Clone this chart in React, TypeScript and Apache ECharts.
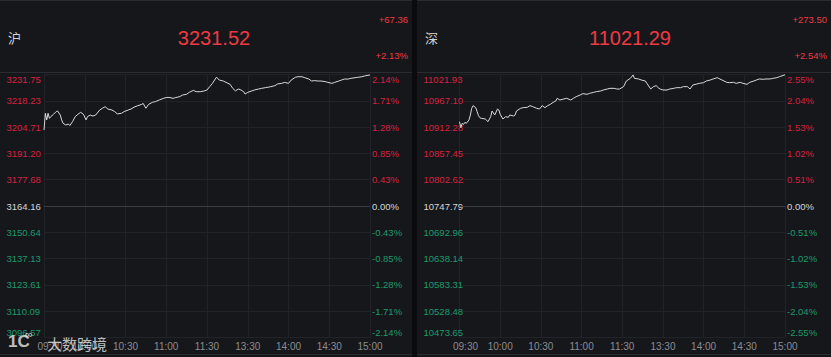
import React, { useEffect, useRef } from "react";
import * as echarts from "echarts";

// ---- data ----
const timeLabels = ["09:30", "10:00", "10:30", "11:00", "11:30", "13:30", "14:00", "14:30", "15:00"];

const shName = "沪";
const shPreClose = 3164.16;
const shAxisTop = 3231.75;
const shLast = "3231.52";
const shChange = "+67.36";
const shChangePct = "+2.13%";
const shPriceTicks = ["3096.57", "3110.09", "3123.61", "3137.13", "3150.64", "3164.16", "3177.68", "3191.20", "3204.71", "3218.23", "3231.75"];
const shPctTicks = ["-2.14%", "-1.71%", "-1.28%", "-0.85%", "-0.43%", "0.00%", "0.43%", "0.85%", "1.28%", "1.71%", "2.14%"];
// [minute index from 09:30, price]
const shSeries: [number, number][] = [
  [0, 3203.2], [1, 3211.8], [2, 3208.4], [3, 3211.8], [4, 3209.2], [5, 3210.1], [7, 3211.3], [9, 3212.7],
  [10, 3213.0], [12, 3210.9], [13, 3208.4], [14, 3206.7], [16, 3205.8], [18, 3206.3], [19, 3205.5],
  [21, 3207.5], [23, 3210.1], [25, 3211.3], [27, 3212.3], [29, 3211.3], [31, 3208.4], [32, 3210.1],
  [34, 3210.9], [36, 3210.4], [38, 3210.9], [41, 3213.5], [43, 3214.4], [45, 3215.2], [47, 3214.0],
  [50, 3213.5], [52, 3212.7], [54, 3211.5], [57, 3211.8], [59, 3212.7], [62, 3213.5], [64, 3214.0],
  [67, 3215.2], [69, 3215.7], [72, 3216.4], [73, 3216.9], [75, 3214.4], [77, 3216.4], [80, 3217.5],
  [82, 3217.8], [85, 3218.7], [88, 3219.5], [90, 3219.9], [92, 3220.0], [95, 3219.5], [97, 3219.9],
  [100, 3220.4], [102, 3221.2], [105, 3221.6], [107, 3222.6], [110, 3223.6], [112, 3222.9], [115, 3222.9],
  [118, 3223.3], [120, 3223.8], [122, 3225.5], [124, 3227.2], [127, 3230.4], [129, 3228.9], [132, 3228.4],
  [134, 3227.7], [137, 3226.7], [139, 3224.6], [141, 3223.3], [143, 3224.3], [145, 3223.8], [147, 3222.9],
  [148, 3221.7], [150, 3222.6], [153, 3223.3], [155, 3223.8], [158, 3224.3], [160, 3224.6], [163, 3225.0],
  [165, 3225.2], [167, 3225.5], [170, 3226.0], [172, 3226.9], [175, 3227.2], [177, 3227.7], [180, 3227.2],
  [182, 3228.9], [185, 3230.3], [187, 3230.6], [190, 3230.6], [192, 3230.1], [195, 3229.4], [197, 3228.4],
  [199, 3228.6], [202, 3228.4], [204, 3228.4], [207, 3228.1], [209, 3227.7], [212, 3227.2], [214, 3227.7],
  [217, 3228.4], [219, 3228.9], [221, 3229.4], [224, 3229.4], [226, 3229.8], [229, 3230.1], [231, 3230.3],
  [234, 3230.6], [236, 3231.0], [240, 3231.52],
];

const szName = "深";
const szPreClose = 10747.79;
const szAxisTop = 11021.93;
const szLast = "11021.29";
const szChange = "+273.50";
const szChangePct = "+2.54%";
const szPriceTicks = ["10473.65", "10528.48", "10583.31", "10638.14", "10692.96", "10747.79", "10802.62", "10857.45", "10912.28", "10967.10", "11021.93"];
const szPctTicks = ["-2.55%", "-2.04%", "-1.53%", "-1.02%", "-0.51%", "0.00%", "0.51%", "1.02%", "1.53%", "2.04%", "2.55%"];
const szSeries: [number, number][] = [
  [0, 10923.6], [1, 10911.1], [2, 10920.1], [3, 10918.0], [4, 10922.2], [5, 10920.1], [7, 10927.1],
  [8, 10937.5], [9, 10951.4], [10, 10957.0], [12, 10952.8], [13, 10944.5], [14, 10936.1], [15, 10931.9],
  [16, 10930.6], [19, 10929.2], [21, 10923.6], [23, 10934.0], [24, 10945.8], [26, 10937.5], [28, 10950.0],
  [29, 10947.9], [30, 10938.9], [32, 10929.2], [34, 10934.0], [36, 10932.6], [37, 10937.5], [40, 10935.4],
  [41, 10937.5], [42, 10945.8], [45, 10951.4], [47, 10952.8], [50, 10953.5], [52, 10957.0], [54, 10954.9],
  [57, 10951.4], [59, 10950.0], [61, 10957.0], [63, 10952.8], [65, 10957.0], [67, 10959.7], [69, 10963.9],
  [71, 10966.7], [72, 10972.3], [74, 10968.8], [77, 10970.9], [79, 10972.3], [82, 10968.8], [84, 10972.3],
  [86, 10975.7], [89, 10979.2], [91, 10982.0], [94, 10980.6], [96, 10982.7], [99, 10984.8], [101, 10986.1],
  [104, 10987.5], [106, 10989.6], [109, 10991.7], [111, 10993.1], [114, 10993.1], [116, 10991.7],
  [118, 10991.7], [121, 10996.6], [123, 11008.4], [126, 11013.9], [128, 11021.0], [129, 11013.9],
  [132, 11012.6], [134, 11010.5], [137, 11008.4], [139, 11000.0], [141, 10991.7], [143, 10996.6],
  [145, 10998.7], [147, 10993.1], [148, 10991.7], [150, 10989.6], [153, 10989.6], [155, 10991.7],
  [158, 10993.1], [160, 10994.5], [163, 10994.5], [165, 10996.6], [168, 10996.6], [170, 10991.7],
  [172, 11000.0], [175, 11002.1], [177, 11003.5], [180, 11004.9], [182, 11008.4], [185, 11010.5],
  [187, 11012.6], [190, 11015.3], [192, 11012.6], [195, 11008.4], [197, 11005.6], [199, 11004.9],
  [202, 11005.6], [204, 11003.5], [207, 11005.6], [209, 11003.5], [212, 11001.4], [214, 11005.6],
  [217, 11008.4], [219, 11010.5], [221, 11012.6], [224, 11011.9], [226, 11012.6], [229, 11012.6],
  [231, 11013.9], [234, 11015.3], [236, 11017.4], [240, 11021.29],
];

// ---- styles ----
const W = 831;
const H = 357;
const BG = "#16171b";
const GAP = "#0b0b0d";
const SEP = "#2b2c31";
const RED = "#d8213f";
const HEAD_RED = "#ee3a44";
const GREEN = "#1e9a6c";
const ZERO = "#d6d6d6";
const GRID = "#222328";
const LINE = "#d9d9d9";
const FONT = "'Liberation Sans', Arial, Helvetica, sans-serif";
const CJK = "'Noto Sans CJK SC', sans-serif";
const YFS = 9.5;

export default function App() {
  const ref = useRef<HTMLDivElement>(null);

  useEffect(() => {
    document.body.style.margin = "0";
    const chart = echarts.init(ref.current!, undefined, { renderer: "svg" });

    const panels = [
      { pre: shPreClose, top: shAxisTop, data: shSeries, priceTicks: shPriceTicks, pctTicks: shPctTicks, left: 44, right: W - 370, x0: 0, x1: 412 },
      { pre: szPreClose, top: szAxisTop, data: szSeries, priceTicks: szPriceTicks, pctTicks: szPctTicks, left: 459.5, right: W - 785, x0: 417, x1: W },
    ];

    const grids: any[] = [];
    const xAxes: any[] = [];
    const yAxes: any[] = [];
    const series: any[] = [];

    panels.forEach((p, k) => {
      const span = +(p.top - p.pre).toFixed(2);
      const step = span / 5;
      const idx = (v: number) => Math.max(0, Math.min(10, Math.round(v / step) + 5));
      grids.push({ left: p.left, right: p.right, top: 74.5, bottom: 19.5, containLabel: false });
      xAxes.push({
        type: "value",
        gridIndex: k,
        min: 0,
        max: 240,
        interval: 30,
        axisLine: { show: false },
        axisTick: { show: false },
        splitLine: { show: true, lineStyle: { color: GRID, width: 1 } },
        axisLabel: {
          margin: 4,
          color: "#8c8c90",
          fontSize: 10,
          fontFamily: FONT,
          formatter: (v: number) => {
            const i = Math.round(v / 30);
            return i === 0 ? "{f|" + timeLabels[i] + "}" : timeLabels[i];
          },
          rich: { f: { padding: [0, 0, 0, 12], color: "#8c8c90", fontSize: 10, fontFamily: FONT } },
        },
      });
      const rich = {
        up: { color: RED, fontSize: YFS, fontFamily: FONT },
        dn: { color: GREEN, fontSize: YFS, fontFamily: FONT },
        zr: { color: ZERO, fontSize: YFS, fontFamily: FONT },
      };
      const tag = (v: number) => {
        const i = idx(v);
        return i === 5 ? "zr" : i > 5 ? "up" : "dn";
      };
      const common = {
        type: "value",
        gridIndex: k,
        min: -span,
        max: span,
        interval: step,
        axisLine: { show: false },
        axisTick: { show: false },
      };
      yAxes.push({
        ...common,
        position: "left",
        splitLine: {
          show: true,
          lineStyle: { color: GRID, width: 1 },
        },
        axisLabel: {
          align: "left",
          margin: p.left - (p.x0 + 6.5),
          verticalAlignMaxLabel: "top",
          verticalAlignMinLabel: "bottom",
          formatter: (v: number) => "{" + tag(v) + "|" + p.priceTicks[idx(v)] + "}",
          rich,
        },
      });
      yAxes.push({
        ...common,
        position: "right",
        splitLine: { show: false },
        axisLabel: {
          align: "left",
          margin: 2,
          verticalAlignMaxLabel: "top",
          verticalAlignMinLabel: "bottom",
          formatter: (v: number) => "{" + tag(v) + "|" + p.pctTicks[idx(v)] + "}",
          rich,
        },
      });
      series.push({
        type: "line",
        xAxisIndex: k,
        yAxisIndex: k * 2,
        data: p.data.map(([m, v]) => [m, +(v - p.pre).toFixed(2)]),
        showSymbol: false,
        symbol: "none",
        lineStyle: { color: LINE, width: 1 },
        markLine: {
          silent: true,
          symbol: "none",
          label: { show: false },
          lineStyle: { color: "#3c3d42", type: "solid", width: 1 },
          data: [{ yAxis: 0 }],
        },
        z: 3,
      });
    });

    const header = (name: string, last: string, chg: string, pct: string, x0: number, x1: number, cx: number) => [
      { type: "line", shape: { x1: x0, y1: 72.5, x2: x1, y2: 72.5 }, style: { stroke: SEP, lineWidth: 1 }, silent: true },
      { type: "line", shape: { x1: x0, y1: 354.5, x2: x1, y2: 354.5 }, style: { stroke: SEP, lineWidth: 1 }, silent: true },
      { type: "line", shape: { x1: x0, y1: 0.5, x2: x1, y2: 0.5 }, style: { stroke: SEP, lineWidth: 1 }, silent: true },
      {
        type: "text",
        x: x0 + 8,
        y: 37,
        style: { text: name, fill: "#d4d4d4", font: "13px " + CJK, textVerticalAlign: "middle", verticalAlign: "middle" },
        silent: true,
      },
      {
        type: "text",
        x: cx,
        y: 37.5,
        style: {
          text: last,
          fill: HEAD_RED,
          font: "20px " + FONT,
          textAlign: "center",
          align: "center",
          textVerticalAlign: "middle",
          verticalAlign: "middle",
        },
        silent: true,
      },
      {
        type: "text",
        x: x1 - 4,
        y: 19.5,
        style: { text: chg, fill: HEAD_RED, font: "9.5px " + FONT, textAlign: "right", align: "right", textVerticalAlign: "middle", verticalAlign: "middle" },
        silent: true,
      },
      {
        type: "text",
        x: x1 - 4,
        y: 55,
        style: { text: pct, fill: HEAD_RED, font: "9.5px " + FONT, textAlign: "right", align: "right", textVerticalAlign: "middle", verticalAlign: "middle" },
        silent: true,
      },
    ];

    const graphic: any[] = [
      { type: "rect", shape: { x: 412, y: 0, width: 5, height: H }, style: { fill: GAP }, silent: true },
      ...header(shName, shLast, shChange, shChangePct, 0, 412, 214),
      ...header(szName, szLast, szChange, szChangePct, 417, W, 630),
      {
        type: "text",
        x: 8,
        y: 341,
        style: { text: "1C", fill: "rgba(235,235,235,0.8)", font: "bold 17px " + FONT, textVerticalAlign: "middle", verticalAlign: "middle" },
        silent: true,
        z: 10,
      },
      {
        type: "text",
        x: 25,
        y: 334,
        style: { text: "∞", fill: "rgba(235,235,235,0.8)", font: "11px " + FONT, textVerticalAlign: "middle", verticalAlign: "middle" },
        silent: true,
        z: 10,
      },
      {
        type: "text",
        x: 47,
        y: 343,
        style: { text: "大数跨境", fill: "rgba(235,235,235,0.8)", font: "15px " + CJK, textVerticalAlign: "middle", verticalAlign: "middle" },
        silent: true,
        z: 10,
      },
    ];

    chart.setOption({
      animation: false,
      backgroundColor: BG,
      grid: grids,
      xAxis: xAxes,
      yAxis: yAxes,
      series,
      graphic,
    });

    return () => chart.dispose();
  }, []);

  return <div ref={ref} style={{ width: W, height: H }} />;
}
